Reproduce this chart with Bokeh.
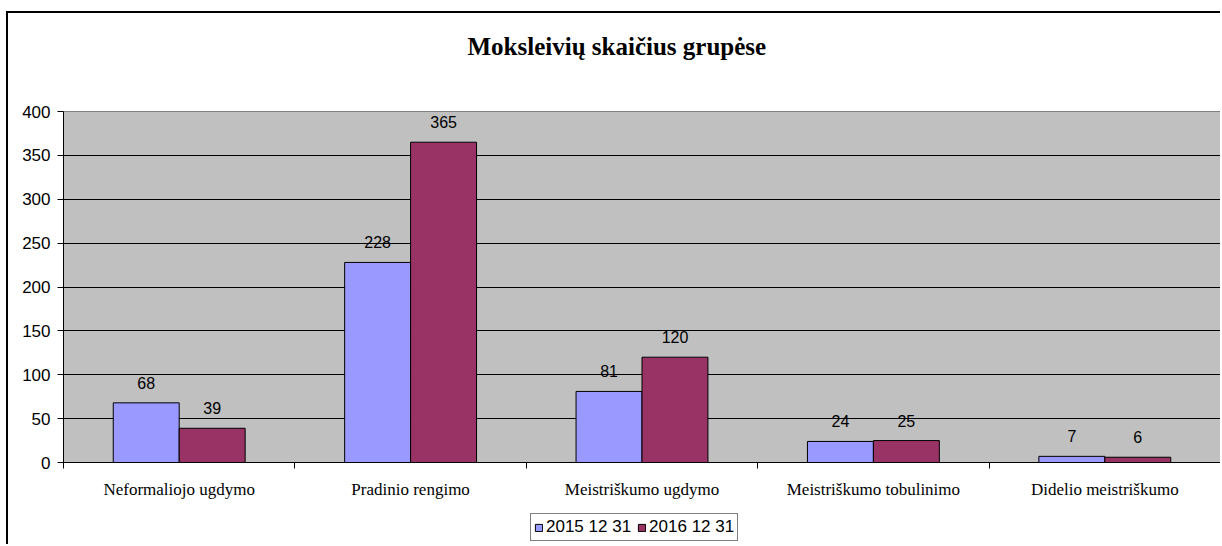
from bokeh.plotting import figure
from bokeh.layouts import column
from bokeh.models import (Range1d, LinearAxis, FixedTicker,
                          ColumnDataSource, Legend, LegendItem, Title)
from bokeh.transform import dodge
from bokeh.core.properties import value
from bokeh.embed import file_html
from bokeh.resources import INLINE

categories = ["Neformaliojo ugdymo", "Pradinio rengimo", "Meistriškumo ugdymo",
              "Meistriškumo tobulinimo", "Didelio meistriškumo"]
series_names = ["2015 12 31", "2016 12 31"]
values_2015 = [68, 228, 81, 24, 7]
values_2016 = [39, 365, 120, 25, 6]
y_ticks = [0, 50, 100, 150, 200, 250, 300, 350, 400]
title_text = "Moksleivių skaičius grupėse"

colors = ["#9999FF", "#993366"]

n = len(categories)
centers = [i + 0.5 for i in range(n)]
bounds = list(range(n + 1))
src = ColumnDataSource(dict(xc=centers, v15=values_2015, v16=values_2016,
                            l15=[str(v) for v in values_2015],
                            l16=[str(v) for v in values_2016]))

p = figure(width=1214, height=493, output_backend="svg", toolbar_location=None,
           x_range=Range1d(0, n), y_range=Range1d(0, 400),
           x_axis_location=None, y_axis_location=None,
           min_border_left=55, min_border_right=2, min_border_top=98, min_border_bottom=44,
           styles={"margin-left": "6px", "margin-top": "11px",
                   "border-left": "2px solid black", "border-top": "2px solid black"})

p.background_fill_color = "#C0C0C0"
p.border_fill_color = "white"
p.outline_line_color = "#808080"
p.xgrid.visible = False
p.ygrid.ticker = FixedTicker(ticks=y_ticks)
p.ygrid.grid_line_color = "black"
p.ygrid.grid_line_width = 1

bw = 0.285
bar_kw = dict(line_color="black", line_width=1)
r1 = p.vbar(x=dodge("xc", -bw / 2), top="v15", width=bw, source=src, fill_color=colors[0], **bar_kw)
r2 = p.vbar(x=dodge("xc", bw / 2), top="v16", width=bw, source=src, fill_color=colors[1], **bar_kw)

lab_kw = dict(text_font=value("Liberation Sans"), text_font_size="16px", text_color="black",
              text_align="center", text_baseline="bottom", y_offset=-14)
p.text(x=dodge("xc", -bw / 2), y="v15", text="l15", source=src, **lab_kw)
p.text(x=dodge("xc", bw / 2), y="v16", text="l16", source=src, **lab_kw)

# y axis
yaxis = LinearAxis(ticker=FixedTicker(ticks=y_ticks))
yaxis.axis_line_color = "black"
yaxis.major_tick_line_color = "black"
yaxis.major_tick_out = 6
yaxis.major_tick_in = 0
yaxis.minor_tick_line_color = None
yaxis.major_label_text_font = "Liberation Sans"
yaxis.major_label_text_font_size = "17px"
yaxis.major_label_text_color = "black"
yaxis.major_label_standoff = 7
p.add_layout(yaxis, "left")

# x axis: labels at category centres, ticks at category boundaries
xaxis = LinearAxis(ticker=FixedTicker(ticks=centers, minor_ticks=bounds))
xaxis.axis_line_color = "black"
xaxis.major_tick_line_color = None
xaxis.major_tick_out = 0
xaxis.major_tick_in = 0
xaxis.minor_tick_line_color = "black"
xaxis.minor_tick_out = 6
xaxis.minor_tick_in = 0
xaxis.major_label_overrides = {c: name for c, name in zip(centers, categories)}
xaxis.major_label_text_font = "Liberation Serif"
xaxis.major_label_text_font_size = "17px"
xaxis.major_label_text_color = "black"
xaxis.major_label_standoff = 11
p.add_layout(xaxis, "below")

# title (with an empty spacer between it and the plot area)
p.title = Title(text=title_text, align="left", text_font="Liberation Serif",
                text_font_size="25px", text_font_style="bold", text_color="black",
                offset=404)
p.add_layout(Title(text=" ", text_font_size="31px"), "above")

# legend in its own strip below the chart
lf = figure(width=1214, height=40, output_backend="svg", toolbar_location=None,
            x_range=Range1d(0, 1), y_range=Range1d(0, 1),
            x_axis_location=None, y_axis_location=None,
            min_border_left=0, min_border_right=0, min_border_top=0, min_border_bottom=0,
            styles={"margin-left": "6px", "border-left": "2px solid black"})
lf.outline_line_color = None
lf.grid.visible = False
lf.background_fill_color = "white"
lf.border_fill_color = "white"
swatch = ColumnDataSource(dict(x=[5], top=[1]))  # outside the visible range: legend swatches only
g1 = lf.vbar(x="x", top="top", width=0.1, source=swatch, fill_color=colors[0], **bar_kw)
g2 = lf.vbar(x="x", top="top", width=0.1, source=swatch, fill_color=colors[1], **bar_kw)

legend = Legend(items=[LegendItem(label=series_names[0], renderers=[g1]),
                       LegendItem(label=series_names[1], renderers=[g2])],
                orientation="horizontal", location=(467, 3))
legend.label_text_font = "Liberation Sans"
legend.label_text_font_size = "17px"
legend.label_text_color = "black"
legend.label_height = 18
legend.glyph_width = 9
legend.glyph_height = 9
legend.label_standoff = 3
legend.spacing = 6
legend.padding = 3
legend.margin = 0
legend.border_line_color = "black"
legend.border_line_width = 1
legend.background_fill_color = "white"
legend.background_fill_alpha = 1
lf.add_layout(legend, "center")

layout = column(p, lf, spacing=0)
open("out.html", "w").write(file_html(layout, INLINE))
